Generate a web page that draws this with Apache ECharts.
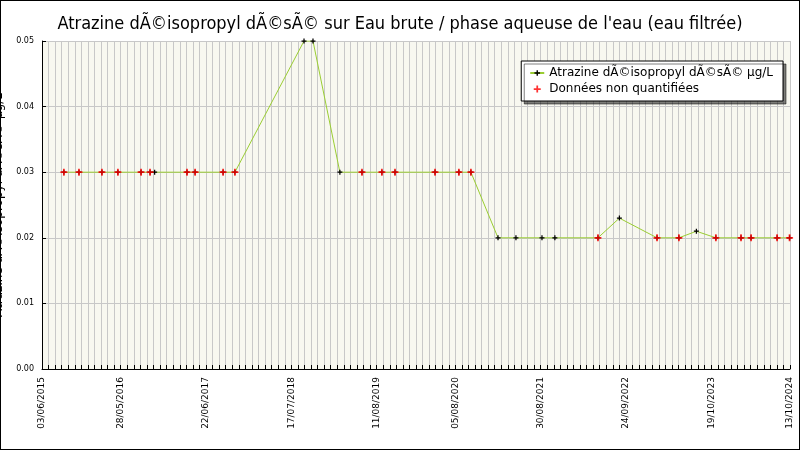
<!DOCTYPE html>
<html><head><meta charset="utf-8">
<script src="https://cdn.jsdelivr.net/npm/echarts@6/dist/echarts.min.js"></script>
<style>html,body{margin:0;padding:0;background:#fff}#c{width:798px;height:448px;border:1px solid #000}</style>
</head><body><div id="c"></div>
<script>
const startDate = '2015-06-03';
const endDate = '2024-10-13';
const tickLabelDates = ['03/06/2015','28/05/2016','22/06/2017','17/07/2018','11/08/2019','05/08/2020','30/08/2021','24/09/2022','19/10/2023','13/10/2024'];
const sampleDates = ['2015-09-11','2015-11-19','2016-03-03','2016-05-15','2016-08-29','2016-10-09','2016-10-30','2017-03-27','2017-05-03','2017-09-08','2017-11-01','2018-09-13','2018-10-24','2019-02-24','2019-06-05','2019-09-04','2019-11-03','2020-05-04','2020-08-21','2020-10-15','2021-02-16','2021-05-09','2021-09-05','2021-11-03','2022-05-19','2022-08-25','2023-02-13','2023-05-24','2023-08-12','2023-11-09','2024-03-03','2024-04-18','2024-08-15','2024-10-11'];
const values = [0.03,0.03,0.03,0.03,0.03,0.03,0.03,0.03,0.03,0.03,0.03,0.05,0.05,0.03,0.03,0.03,0.03,0.03,0.03,0.03,0.02,0.02,0.02,0.02,0.02,0.023,0.02,0.02,0.021,0.02,0.02,0.02,0.02,0.02];
const nonQuantified = [1,1,1,1,1,1,0,1,1,1,1,0,0,0,1,1,1,1,1,1,0,0,0,0,1,0,1,1,0,1,1,1,1,1];

const DAY = 86400000;
const t0 = Date.parse(startDate);
const dayOf = s => Math.round((Date.parse(s) - t0) / DAY);
const maxDay = dayOf(endDate);
const labelMap = {};
tickLabelDates.forEach(d => { const p = d.split('/'); labelMap[dayOf(p[2]+'-'+p[1]+'-'+p[0])] = d; });
const lineData = sampleDates.map((d,i) => [dayOf(d), values[i]]);
const redData = sampleDates.map((d,i) => nonQuantified[i] ? [dayOf(d), values[i]] : null).filter(Boolean);
const plus = 'path://M3,0H5V3H8V5H5V8H3V5H0V3H3Z';

const chart = echarts.init(document.getElementById('c'));
chart.setOption({
  animation: false,
  textStyle: {fontFamily: 'DejaVu Sans'},
  title: {text: "Atrazine dÃ©isopropyl dÃ©sÃ© sur Eau brute / phase aqueuse de l'eau (eau filtrée)", left: 'center', top: 9,
    textStyle: {fontSize: 18, fontWeight: 'normal', color: '#000', fontFamily: 'DejaVu Sans Condensed, DejaVu Sans'}},
  grid: {left: 41, right: 9, top: 40, bottom: 80, backgroundColor: '#f8f8f0', show: true, borderWidth: 0,
    containLabel: false, outerBoundsMode: 'none'},
  legend: {orient: 'vertical', right: 16, top: 60, backgroundColor: '#fff', borderColor: '#000', borderWidth: 1,
    padding: [6, 10, 6, 8], itemGap: 4, itemWidth: 14, itemHeight: 7,
    shadowColor: 'rgba(0,0,0,0.5)', shadowOffsetX: 3, shadowOffsetY: 3, shadowBlur: 0,
    textStyle: {fontSize: 12, color: '#000'}},
  xAxis: {type: 'value', min: 0, max: maxDay, interval: 30,
    axisLine: {lineStyle: {color: '#000'}}, axisTick: {show: true, length: 4, inside: true, lineStyle: {color: '#000'}},
    splitLine: {show: true, lineStyle: {color: '#c8c8c8', width: 1}},
    axisLabel: {rotate: 90, fontSize: 9, color: '#000', showMaxLabel: true, formatter: v => labelMap[v] || ''}},
  yAxis: {type: 'value', min: 0, max: 0.05, interval: 0.01, name: 'Atrazine dÃ©isopropyl dÃ©sÃ© µg/L',
    nameLocation: 'middle', nameGap: 26, nameTextStyle: {fontSize: 12, color: '#000'},
    axisLine: {show: true, lineStyle: {color: '#000'}}, axisTick: {show: true, inside: true, length: 4},
    splitLine: {lineStyle: {color: '#c8c8c8'}},
    axisLabel: {fontSize: 8, color: '#000', formatter: v => v.toFixed(2)}},
  series: [
    {name: 'Atrazine dÃ©isopropyl dÃ©sÃ© µg/L', type: 'line', data: lineData, symbol: plus, symbolSize: 5,
      itemStyle: {color: '#000'}, lineStyle: {color: '#9acd32', width: 1}, z: 3},
    {name: 'Données non quantifiées', type: 'scatter', data: redData, symbol: plus, symbolSize: 7,
      itemStyle: {color: '#ff0000'}, z: 4}
  ]
});
</script></body></html>
